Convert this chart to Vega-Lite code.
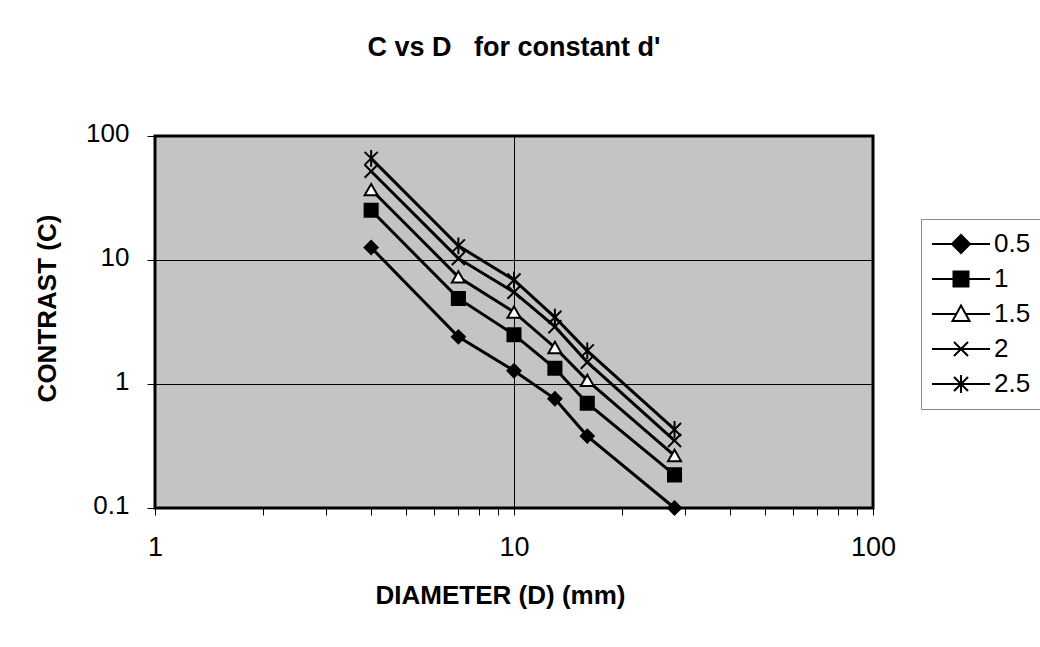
{
  "$schema": "https://vega.github.io/schema/vega-lite/v6.json",
  "autosize": "none",
  "padding": {"left": 155, "top": 136, "right": 167, "bottom": 139},
  "width": 718,
  "height": 372,
  "background": "white",
  "config": {
    "font": "Liberation Sans",
    "view": {"stroke": "black", "strokeWidth": 3, "fill": "#c4c4c4"},
    "axis": {"labelColor": "black", "titleColor": "black", "tickColor": "black", "gridColor": "black", "gridWidth": 1, "domain": false, "labelFont": "Liberation Sans", "titleFont": "Liberation Sans"}
  },
  "title": {"text": "C vs D\u00a0\u00a0\u00a0for constant d'", "fontSize": 27, "fontWeight": "bold", "font": "Liberation Sans", "color": "black", "anchor": "middle", "offset": 58},
  "data": {"values": [
    {"D": 4, "C": 12.6, "dp": "0.5"}, {"D": 7, "C": 2.4, "dp": "0.5"}, {"D": 10, "C": 1.28, "dp": "0.5"}, {"D": 13, "C": 0.76, "dp": "0.5"}, {"D": 16, "C": 0.38, "dp": "0.5"}, {"D": 28, "C": 0.1, "dp": "0.5"},
    {"D": 4, "C": 25.2, "dp": "1"}, {"D": 7, "C": 4.9, "dp": "1"}, {"D": 10, "C": 2.5, "dp": "1"}, {"D": 13, "C": 1.34, "dp": "1"}, {"D": 16, "C": 0.7, "dp": "1"}, {"D": 28, "C": 0.185, "dp": "1"},
    {"D": 4, "C": 37, "dp": "1.5"}, {"D": 7, "C": 7.3, "dp": "1.5"}, {"D": 10, "C": 3.8, "dp": "1.5"}, {"D": 13, "C": 1.97, "dp": "1.5"}, {"D": 16, "C": 1.07, "dp": "1.5"}, {"D": 28, "C": 0.265, "dp": "1.5"},
    {"D": 4, "C": 52, "dp": "2"}, {"D": 7, "C": 10.3, "dp": "2"}, {"D": 10, "C": 5.5, "dp": "2"}, {"D": 13, "C": 2.9, "dp": "2"}, {"D": 16, "C": 1.5, "dp": "2"}, {"D": 28, "C": 0.35, "dp": "2"},
    {"D": 4, "C": 66, "dp": "2.5"}, {"D": 7, "C": 13, "dp": "2.5"}, {"D": 10, "C": 6.9, "dp": "2.5"}, {"D": 13, "C": 3.45, "dp": "2.5"}, {"D": 16, "C": 1.85, "dp": "2.5"}, {"D": 28, "C": 0.43, "dp": "2.5"}
  ]},
  "encoding": {
    "x": {
      "field": "D", "type": "quantitative",
      "scale": {"type": "log", "domain": [1, 100], "nice": false},
      "axis": {
        "values": [1, 2, 3, 4, 5, 6, 7, 8, 9, 10, 20, 30, 40, 50, 60, 70, 80, 90, 100],
        "labelExpr": "(datum.value == 1 || datum.value == 10 || datum.value == 100) ? format(datum.value, 'd') : ''",
        "grid": true,
        "gridOpacity": {"condition": {"test": "datum.value == 10", "value": 1}, "value": 0},
        "tickSize": 7,
        "labelFontSize": 27,
        "labelBaseline": "alphabetic",
        "labelPadding": 40,
        "labelFlush": false,
        "labelOverlap": false,
        "title": "DIAMETER (D) (mm)",
        "titleFontSize": 26,
        "titleFontWeight": "bold",
        "titleX": 345,
        "titleY": 95,
        "titleBaseline": "alphabetic"
      }
    },
    "y": {
      "field": "C", "type": "quantitative",
      "scale": {"type": "log", "domain": [0.1, 100], "nice": false},
      "axis": {
        "values": [0.1, 1, 10, 100],
        "format": "~g",
        "grid": true,
        "gridOpacity": {"condition": {"test": "datum.value == 10 || datum.value == 1", "value": 1}, "value": 0},
        "tickSize": 8,
        "labelFontSize": 26,
        "labelPadding": 18,
        "labelBaseline": "middle",
        "labelOffset": -3,
        "labelFlush": false,
        "labelOverlap": false,
        "title": "CONTRAST (C)",
        "titleFontSize": 26,
        "titleFontWeight": "bold",
        "titleX": -100,
        "titleY": 172,
        "titleBaseline": "alphabetic",
        "titleAngle": -90
      }
    }
  },
  "resolve": {"scale": {"shape": "independent", "fill": "independent", "stroke": "independent"}},
  "layer": [
    {
      "mark": {"type": "line", "color": "black", "strokeWidth": 3},
      "encoding": {"detail": {"field": "dp"}}
    },
    {
      "mark": {"type": "point", "filled": true, "stroke": "black", "strokeWidth": 2, "size": 170, "opacity": 1},
      "encoding": {
        "shape": {
          "field": "dp", "type": "nominal",
          "scale": {"domain": ["0.5", "1", "1.5", "2", "2.5"], "range": ["diamond", "square", "triangle-up", "M-1,-1L1,1M-1,1L1,-1", "M-1,-1L1,1M-1,1L1,-1M0,-1.3L0,1.3"]},
          "legend": null
        },
        "fill": {
          "field": "dp", "type": "nominal",
          "scale": {"domain": ["0.5", "1", "1.5", "2", "2.5"], "range": ["black", "black", "white", "black", "black"]},
          "legend": null
        }
      }
    },
    {
      "transform": [{"filter": "datum.C < 0"}],
      "mark": {"type": "point", "filled": true, "strokeWidth": 2, "opacity": 1},
      "encoding": {
        "shape": {
          "field": "dp", "type": "nominal",
          "scale": {"domain": ["0.5", "1", "1.5", "2", "2.5"], "range": [
            "M-2.9,0L2.9,0M0,-0.9L0.9,0L0,0.9L-0.9,0Z",
            "M-2.9,0L2.9,0M-0.75,-0.75L0.75,-0.75L0.75,0.75L-0.75,0.75Z",
            "M-2.9,0L-0.5,0M0.5,0L2.9,0M0,-0.85L0.85,0.7L-0.85,0.7Z",
            "M-2.9,0L2.9,0M-0.7,-0.7L0.7,0.7M-0.7,0.7L0.7,-0.7",
            "M-2.9,0L2.9,0M-0.7,-0.7L0.7,0.7M-0.7,0.7L0.7,-0.7M0,-0.9L0,0.9"
          ]},
          "legend": {
            "title": null, "orient": "none", "legendX": 766, "legendY": 83, "padding": 12,
            "symbolSize": 400, "symbolOffset": 15, "labelOffset": 20, "rowPadding": 9,
            "symbolOpacity": 1, "symbolStrokeWidth": 2,
            "labelFontSize": 26, "labelFont": "Liberation Sans", "labelColor": "black",
            "fillColor": "white", "strokeColor": "#8a8a8a"
          }
        },
        "fill": {
          "field": "dp", "type": "nominal",
          "scale": {"domain": ["0.5", "1", "1.5", "2", "2.5"], "range": ["black", "black", "white", "black", "black"]},
          "legend": {
            "title": null, "orient": "none", "legendX": 766, "legendY": 83, "padding": 12,
            "symbolSize": 400, "symbolOffset": 15, "labelOffset": 20, "rowPadding": 9,
            "symbolOpacity": 1, "symbolStrokeWidth": 2,
            "labelFontSize": 26, "labelFont": "Liberation Sans", "labelColor": "black",
            "fillColor": "white", "strokeColor": "#8a8a8a"
          }
        },
        "stroke": {
          "field": "dp", "type": "nominal",
          "scale": {"domain": ["0.5", "1", "1.5", "2", "2.5"], "range": ["black", "black", "black", "black", "black"]},
          "legend": {
            "title": null, "orient": "none", "legendX": 766, "legendY": 83, "padding": 12,
            "symbolSize": 400, "symbolOffset": 15, "labelOffset": 20, "rowPadding": 9,
            "symbolOpacity": 1, "symbolStrokeWidth": 2,
            "labelFontSize": 26, "labelFont": "Liberation Sans", "labelColor": "black",
            "fillColor": "white", "strokeColor": "#8a8a8a"
          }
        }
      }
    }
  ]
}
